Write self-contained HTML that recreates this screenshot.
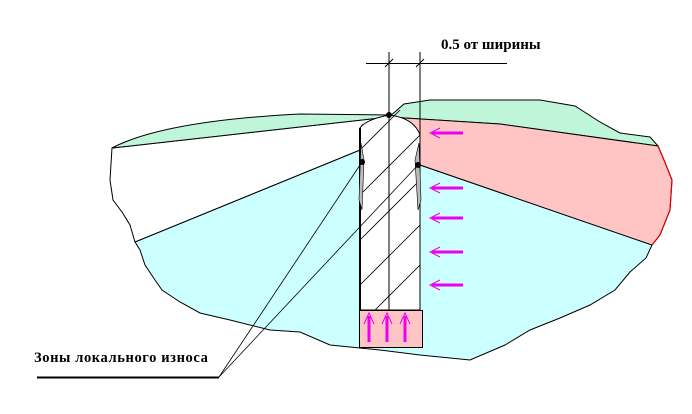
<!DOCTYPE html>
<html><head><meta charset="utf-8"><style>html,body{margin:0;padding:0;background:#fff}svg{display:block}</style></head>
<body>
<svg width="692" height="414" viewBox="0 0 692 414" xmlns="http://www.w3.org/2000/svg">
<defs>
<clipPath id="tool"><rect x="360" y="110" width="60" height="200"/></clipPath>
</defs>
<path d="M135,242 L360,150 L360,310 L420,310 L420,165 L652,245 L646,258 L630,272 L615,290 L590,305 L560,318 L530,330 L505,345 L470,360 L420,355 L380,350 L330,345 L300,332 L270,330 L230,320 L200,313 L180,302 L162,290 L155,280 L145,265 L140,250 Z" fill="#ccffff" stroke="#000" stroke-width="1"/>
<path d="M112,148 L389,117 L362,125 L360,150 L135,242 L130,225 L122,212 L113,200 L110,180 Z" fill="#fff" stroke="#000" stroke-width="1"/>
<path d="M112,148 C150,128 220,118 300,114 L389,115 L389,117 Z" fill="#bff5d8" stroke="#000" stroke-width="1"/>
<path d="M389,117 L404,104 L430,100 L540,100 L575,106 L600,122 L620,133 L650,137 L658,146 L500,124 Z" fill="#bff5d8" stroke="#000" stroke-width="1"/>
<path d="M389,117 L500,124 L658,146 L664,160 L672,180 L670,210 L660,235 L652,245 L420,165 L420,135 Z" fill="#ffc4c4" stroke="#000" stroke-width="1"/>
<path d="M658,146 L664,160 L672,180 L670,210 L660,235 L652,245" fill="none" stroke="#d00" stroke-width="1.2"/>
<path d="M360,310 L360,128 Q365,120 389,115 Q414,118 420,135 L420,310 Z" fill="#fff" stroke="#000" stroke-width="1"/>
<g clip-path="url(#tool)" stroke="#000" stroke-width="0.8">
<line x1="360" y1="150" x2="420" y2="90"/>
<line x1="360" y1="195" x2="420" y2="135"/>
<line x1="360" y1="240" x2="420" y2="180"/>
<line x1="360" y1="285" x2="420" y2="225"/>
<line x1="375" y1="310" x2="420" y2="265"/>
</g>
<line x1="360" y1="128" x2="360" y2="310" stroke="#000" stroke-width="2"/>
<path d="M361,143 L364,160 L362,210 L359,200 Z" fill="#bbb" stroke="#000" stroke-width="0.6"/>
<path d="M419,143 L415,160 L418,210 L421,200 Z" fill="#bbb" stroke="#000" stroke-width="0.6"/>
<rect x="359.5" y="310.5" width="63" height="37" fill="#ffc4c4" stroke="#000" stroke-width="1"/>
<line x1="360" y1="310" x2="420" y2="310" stroke="#000"/>
<line x1="389" y1="52" x2="389" y2="310" stroke="#000" stroke-width="1"/>
<line x1="420" y1="52" x2="420" y2="135" stroke="#000" stroke-width="1"/>
<line x1="366" y1="63.5" x2="507" y2="63.5" stroke="#000" stroke-width="1"/>
<line x1="385" y1="67" x2="393" y2="59" stroke="#000"/>
<line x1="416" y1="67" x2="424" y2="59" stroke="#000"/>
<circle cx="389" cy="115" r="3" fill="#000"/>
<circle cx="362" cy="162" r="3" fill="#000"/>
<circle cx="418" cy="165" r="3" fill="#000"/>
<line x1="219" y1="377" x2="362" y2="162" stroke="#000" stroke-width="0.8"/>
<line x1="219" y1="377" x2="418" y2="165" stroke="#000" stroke-width="0.8"/>
<line x1="37" y1="377.5" x2="219" y2="377.5" stroke="#000" stroke-width="2"/>
<g stroke="#ee00ee" stroke-width="3" fill="none">
<line x1="432" y1="133" x2="463" y2="133"/>
<line x1="432" y1="188" x2="463" y2="188"/>
<line x1="432" y1="218" x2="463" y2="218"/>
<line x1="432" y1="252" x2="463" y2="252"/>
<line x1="432" y1="285" x2="463" y2="285"/>
<line x1="369" y1="342" x2="369" y2="316"/>
<line x1="387" y1="342" x2="387" y2="316"/>
<line x1="405" y1="342" x2="405" y2="316"/>
</g>
<g stroke="#ee00ee" stroke-width="1" fill="none">
<path d="M440,128 L430,133 L440,138"/>
<path d="M440,183 L430,188 L440,193"/>
<path d="M440,213 L430,218 L440,223"/>
<path d="M440,247 L430,252 L440,257"/>
<path d="M440,280 L430,285 L440,290"/>
<path d="M364,324 L369,313 L374,324"/>
<path d="M382,324 L387,313 L392,324"/>
<path d="M400,324 L405,313 L410,324"/>
</g>
<text x="441" y="49" font-family="Liberation Serif, serif" font-weight="bold" font-size="15">0.5 от ширины</text>
<text x="34" y="362" font-family="Liberation Serif, serif" font-weight="bold" font-size="14.5" letter-spacing="0.6">Зоны локального износа</text>
</svg>
</body></html>
